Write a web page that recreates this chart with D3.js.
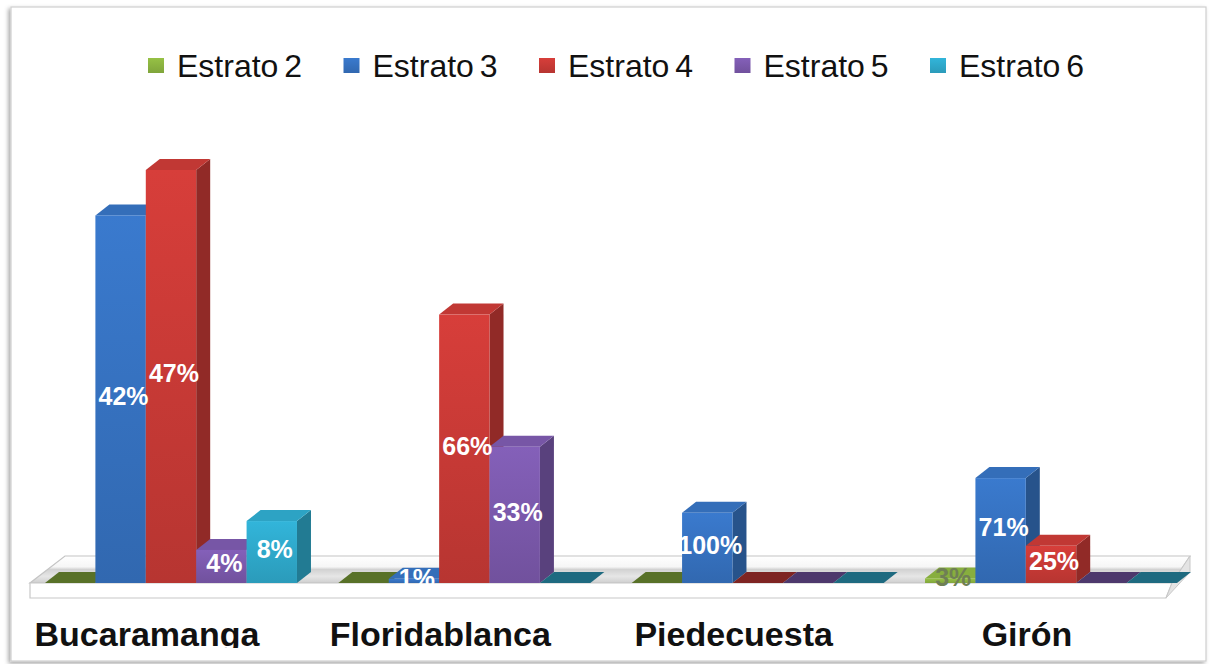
<!DOCTYPE html>
<html>
<head>
<meta charset="utf-8">
<script src="https://cdn.jsdelivr.net/npm/d3@7"></script>
<style>
  body { margin: 0; background: #fff; }
  svg { display: block; font-family: "Liberation Sans", Arial, sans-serif; }
</style>
</head>
<body>
<svg id="drawing_region"></svg>
<script>
// data (bar heights in relative units, labels in %)
const categories = [ "Bucaramanga", "Floridablanca", "Piedecuesta", "Girón" ];
const series = [ "Estrato 2", "Estrato 3", "Estrato 4", "Estrato 5", "Estrato 6" ];

const estrato2 = [ 0, 0, 0, 1.1 ];
const estrato3 = [ 89, 1, 17, 25.4 ];
const estrato4 = [ 100, 65, 0, 9 ];
const estrato5 = [ 8, 33, 0, 0 ];
const estrato6 = [ 15, 0, 0, 0 ];

const pct2 = [ null, null, null, 3 ];
const pct3 = [ 42, 1, 100, 71 ];
const pct4 = [ 47, 66, null, 25 ];
const pct5 = [ 4, 33, null, null ];
const pct6 = [ 8, null, null, null ];

const colors = [ "#8cb440", "#3672c0", "#c83a36", "#7b59ac", "#2fa9cb" ];
const labelColors = [ "#6f7f55", "#fff", "#fff", "#fff", "#fff" ];

const values = [ estrato2, estrato3, estrato4, estrato5, estrato6 ];
const pcts = [ pct2, pct3, pct4, pct5, pct6 ];

const data = [];
categories.forEach( ( c, ci ) => {
    series.forEach( ( s, si ) => {
        data.push( { cat: c, ser: s, si: si, value: values[si][ci], pct: pcts[si][ci] } );
    } );
} );

const W = 1217, H = 664;
const dx = 14, dy = 11;

const svg = d3.select( "#drawing_region" )
    .attr( "width", W )
    .attr( "height", H );

const defs = svg.append( "defs" );

const shadow = defs.append( "filter" ).attr( "id", "shadow" )
    .attr( "x", -0.05 ).attr( "y", -0.05 ).attr( "width", 1.1 ).attr( "height", 1.1 );
shadow.append( "feDropShadow" )
    .attr( "dx", -2 ).attr( "dy", 2 ).attr( "stdDeviation", 2 )
    .attr( "flood-color", "#000" ).attr( "flood-opacity", 0.35 );

colors.forEach( ( c, i ) => {
    const g = defs.append( "linearGradient" ).attr( "id", "front" + i )
        .attr( "x1", 0 ).attr( "y1", 0 ).attr( "x2", 0 ).attr( "y2", 1 );
    g.append( "stop" ).attr( "offset", 0 ).attr( "stop-color", d3.color( c ).brighter( 0.2 ) );
    g.append( "stop" ).attr( "offset", 1 ).attr( "stop-color", d3.color( c ).darker( 0.25 ) );
} );

const floorGrad = defs.append( "linearGradient" ).attr( "id", "floorTop" )
    .attr( "x1", 0 ).attr( "y1", 0 ).attr( "x2", 0 ).attr( "y2", 1 );
[ [ 0, "#ffffff" ], [ 0.4, "#f6f6f6" ], [ 0.5, "#d2d2d2" ], [ 0.75, "#e6e6e6" ], [ 1, "#cfcfcf" ] ]
    .forEach( s => floorGrad.append( "stop" ).attr( "offset", s[0] ).attr( "stop-color", s[1] ) );

defs.append( "clipPath" ).attr( "id", "catclip" )
    .append( "rect" ).attr( "x", 0 ).attr( "y", 0 ).attr( "width", W ).attr( "height", 648 );

// frame
svg.append( "rect" )
    .attr( "x", 11 ).attr( "y", 7 )
    .attr( "width", 1195 ).attr( "height", 654 )
    .attr( "fill", "#fff" )
    .attr( "stroke", "#cfcfcf" )
    .attr( "stroke-width", 1.2 )
    .attr( "filter", "url(#shadow)" );

// scales
const xscale = d3.scaleBand()
    .domain( categories )
    .range( [ 45, 1177 ] )
    .paddingInner( 0.141 )
    .paddingOuter( 0 );

const sscale = d3.scaleBand()
    .domain( series )
    .range( [ 0, xscale.bandwidth() ] );

const yscale = d3.scaleLinear()
    .domain( [ 0, 100 ] )
    .range( [ 583, 170 ] );

const base = yscale( 0 );

// floor
const fl = 30, fr = 1172, ft = base - 27;
const floor = svg.append( "g" );
floor.append( "polygon" )
    .attr( "points", [ [ fl, base ], [ fr, base ], [ fr + 18, ft ], [ fl + 35, ft ] ].join( " " ) )
    .attr( "fill", "url(#floorTop)" )
    .attr( "stroke", "#c4c4c4" )
    .attr( "stroke-width", 1.2 );
floor.append( "polygon" )
    .attr( "points", [ [ fl, base ], [ fr, base ], [ fr - 6, base + 15 ], [ fl, base + 15 ] ].join( " " ) )
    .attr( "fill", "#fff" )
    .attr( "stroke", "#c8c8c8" )
    .attr( "stroke-width", 1.2 );
floor.append( "polygon" )
    .attr( "points", [ [ fr, base ], [ fr + 18, ft ], [ fr + 18, ft + 16 ], [ fr - 6, base + 15 ] ].join( " " ) )
    .attr( "fill", "#e4e4e4" )
    .attr( "stroke", "#c8c8c8" )
    .attr( "stroke-width", 1 );

// bars
const bars = svg.append( "g" );
data.forEach( d => {
    const x0 = xscale( d.cat ) + sscale( d.ser );
    const w = sscale.bandwidth();
    const c = d3.color( colors[d.si] );
    const g = bars.append( "g" );
    if ( d.value === 0 ) {
        g.append( "polygon" )
            .attr( "points", [ [ x0, base ], [ x0 + w, base ], [ x0 + w + dx, base - dy ], [ x0 + dx, base - dy ] ].join( " " ) )
            .attr( "fill", c.darker( 1.3 ) );
        return;
    }
    const yt = yscale( d.value );
    g.append( "polygon" )
        .attr( "points", [ [ x0 + w, base ], [ x0 + w, yt ], [ x0 + w + dx, yt - dy ], [ x0 + w + dx, base - dy ] ].join( " " ) )
        .attr( "fill", c.darker( 0.9 ) );
    g.append( "polygon" )
        .attr( "points", [ [ x0, yt ], [ x0 + w, yt ], [ x0 + w + dx, yt - dy ], [ x0 + dx, yt - dy ] ].join( " " ) )
        .attr( "fill", c.darker( 0.1 ) );
    g.append( "rect" )
        .attr( "x", x0 ).attr( "y", yt )
        .attr( "width", w ).attr( "height", base - yt )
        .attr( "fill", `url(#front${d.si})` );
} );

// value labels
svg.append( "g" )
    .selectAll( "text" )
    .data( data.filter( d => d.pct !== null ) )
    .join( "text" )
    .attr( "x", d => xscale( d.cat ) + sscale( d.ser ) + sscale.bandwidth() / 2 + 3 )
    .attr( "y", d => ( yscale( d.value ) + base ) / 2 - 3 )
    .attr( "dy", "0.35em" )
    .attr( "text-anchor", "middle" )
    .attr( "font-size", 25 )
    .attr( "font-weight", "bold" )
    .attr( "fill", d => labelColors[d.si] )
    .text( d => d.pct + "%" );

// category labels
svg.append( "g" )
    .attr( "clip-path", "url(#catclip)" )
    .selectAll( "text" )
    .data( categories )
    .join( "text" )
    .attr( "x", d => xscale( d ) + xscale.bandwidth() / 2 - 24 )
    .attr( "y", 646 )
    .attr( "text-anchor", "middle" )
    .attr( "font-size", 34 )
    .attr( "font-weight", "bold" )
    .attr( "fill", "#111" )
    .text( d => d );

// legend
const lx = d3.scaleBand().domain( series ).range( [ 148, 148 + 5 * 195.5 ] );
const legend = svg.append( "g" )
    .selectAll( "g" )
    .data( series )
    .join( "g" )
    .attr( "transform", d => `translate(${lx( d )}, 66)` );
legend.append( "rect" )
    .attr( "x", 0 ).attr( "y", -8 )
    .attr( "width", 16 ).attr( "height", 15 )
    .attr( "fill", ( d, i ) => `url(#front${i})` );
legend.append( "text" )
    .attr( "x", 29 )
    .attr( "dy", "0.35em" )
    .attr( "font-size", 32 )
    .attr( "word-spacing", -3 )
    .attr( "fill", "#111" )
    .text( d => d );
</script>
</body>
</html>
